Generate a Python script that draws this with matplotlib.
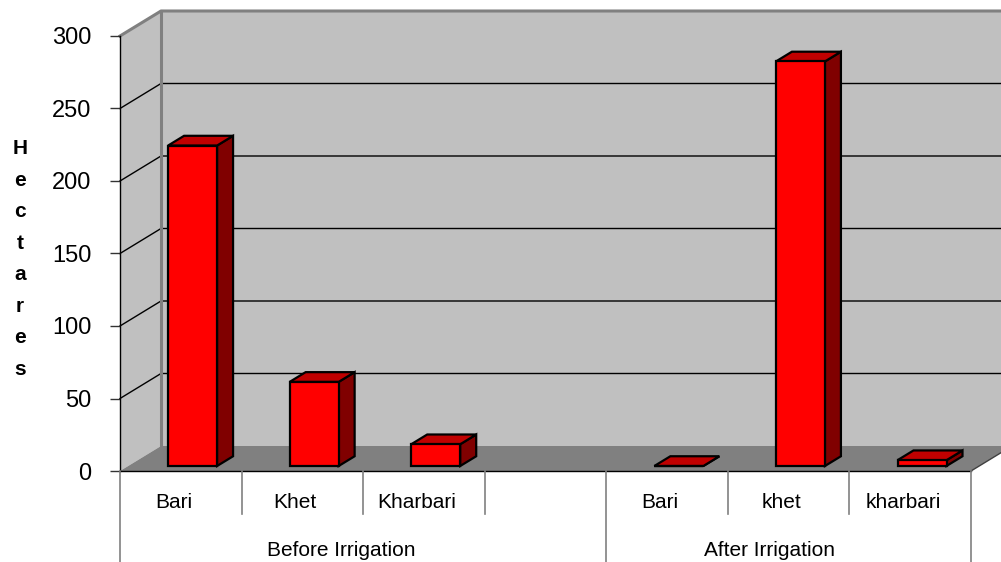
import matplotlib.pyplot as plt
from matplotlib.patches import Polygon

plt.rcParams['font.family'] = ['Liberation Sans', 'DejaVu Sans']

# ===== data =====
groups = ['Before Irrigation', 'After Irrigation']
categories = ['Bari', 'Khet', 'Kharbari', '', 'Bari', 'khet', 'kharbari']
hectares = [221, 58, 15, None, 0, 279, 4]
yticks = [0, 50, 100, 150, 200, 250, 300]

# ===== layout (front plane = axes box) =====
W, H = 1001, 562
SX = 851 / 7          # px per category slot
SY = 435 / 300        # px per hectare
DX = 41 / SX          # depth offset of back wall, data units
DY = 25 / SY
n = len(categories)

fig = plt.figure(figsize=(W / 100, H / 100), dpi=100)
ax = fig.add_axes([120 / W, (H - 471) / H, 851 / W, 435 / H])
ax.set_xlim(0, n)
ax.set_ylim(0, 300)
ax.patch.set_visible(False)
for s in ['top', 'right', 'bottom']:
    ax.spines[s].set_visible(False)
ax.spines['left'].set_color('black')
ax.spines['left'].set_linewidth(1)
ax.set_xticks([])
ax.set_yticks(yticks)
ax.tick_params(axis='y', length=7.2, width=1, color='#333333', pad=13.5, labelsize=17)

def poly(pts, fc, ec='none', lw=0, z=1):
    ax.add_patch(Polygon(pts, closed=True, facecolor=fc, edgecolor=ec,
                         linewidth=lw, zorder=z, clip_on=False))

top = yticks[-1]
# walls
poly([(DX, DY), (n + 2, DY), (n + 2, top + DY), (DX, top + DY)], '#C0C0C0', z=0)
poly([(0, 0), (DX, DY), (DX, top + DY), (0, top)], '#C0C0C0', z=0)

# gridlines
for v in yticks[1:-1]:
    ax.plot([0, DX, n + 2], [v, v + DY, v + DY], color='black', lw=1, zorder=0.5, clip_on=False)

# wall borders
ax.plot([0, DX, n + 2], [top, top + DY, top + DY], color='#808080', lw=2.2, zorder=0.6, clip_on=False)
ax.plot([DX, DX], [DY, top + DY], color='#808080', lw=2.2, zorder=0.6, clip_on=False)

# floor
poly([(0, 0), (n, 0), (n + DX, DY), (DX, DY)], '#808080', z=0.7)
ax.plot([n, n + DX], [0, DY], color='#404040', lw=1, zorder=0.8, clip_on=False)

# bars
d0, d1 = 0.2, 0.59
bw = 49 / SX
for i, v in enumerate(hectares):
    if v is None:
        continue
    x0 = i + 0.328 + d0 * DX
    y0 = d0 * DY
    bx, by = (d1 - d0) * DX, (d1 - d0) * DY
    poly([(x0 + bw, y0), (x0 + bw + bx, y0 + by), (x0 + bw + bx, y0 + v + by), (x0 + bw, y0 + v)],
         '#800000', 'black', 1.6, z=2)
    poly([(x0, y0 + v), (x0 + bw, y0 + v), (x0 + bw + bx, y0 + v + by), (x0 + bx, y0 + v + by)],
         '#C00000', 'black', 1.6, z=2)
    poly([(x0, y0), (x0 + bw, y0), (x0 + bw, y0 + v), (x0, y0 + v)],
         '#FF0000', 'black', 1.6, z=2.1)

# category axis table
bottom = -(H - 471) / SY
short = -(514 - 471) / SY
ax.plot([0, n], [0, 0], color='black', lw=1, zorder=3, clip_on=False)
for i in range(n + 1):
    yb = bottom if i in (0, 4, n) else short
    ax.plot([i, i], [0, yb], color='#808080', lw=1.2, zorder=3, clip_on=False)

for i, c in enumerate(categories):
    ax.text(i + 0.44, -(503 - 471) / SY, c, ha='center', va='center', fontsize=15)
ax.text(2 - 0.18, -(550 - 471) / SY, groups[0], ha='center', va='center', fontsize=15)
ax.text(5.5 - 0.16, -(550 - 471) / SY, groups[1], ha='center', va='center', fontsize=15)

# vertical stacked axis title
fig.text(20 / W, 1 - 259 / H, '\n'.join('Hectares'), ha='center', va='center',
         fontsize=15, fontweight='bold', linespacing=1.83)

fig.savefig('out.png', dpi=100)
